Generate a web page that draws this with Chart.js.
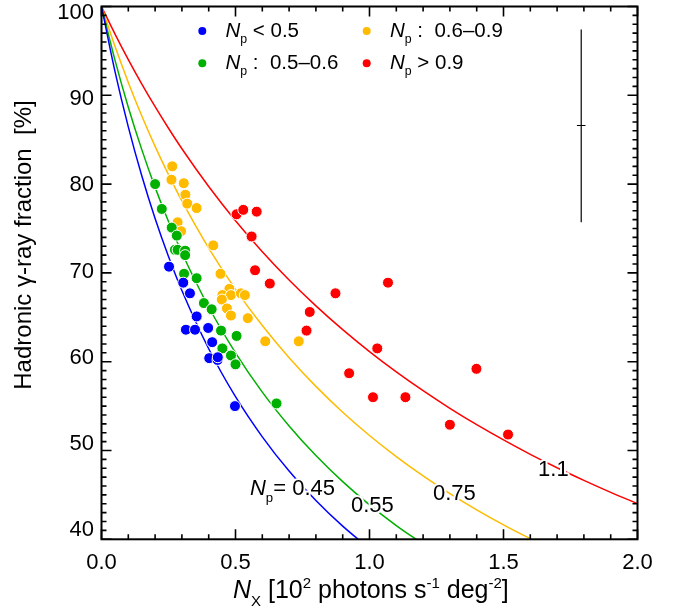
<!DOCTYPE html>
<html><head><meta charset="utf-8">
<script src="https://cdn.jsdelivr.net/npm/chart.js@4.4.1/dist/chart.umd.min.js"></script>
<style>html,body{margin:0;padding:0;background:#fff;overflow:hidden}canvas{display:block}</style>
</head><body>
<canvas id="c" width="686" height="614"></canvas>
<script>
// ---------- DATA ----------
const xTickLabels = ['0.0', '0.5', '1.0', '1.5', '2.0'];
const yTickValues = [40, 50, 60, 70, 80, 90, 100];
const yTickLabels = ['40', '50', '60', '70', '80', '90', '100'];
const groupLabels = [' < 0.5', ' :  0.5\u20130.6', ' :  0.6\u20130.9', ' > 0.9'];
const curveLabels = ['0.45', '0.55', '0.75', '1.1'];

const blueX = [0.252, 0.305, 0.330, 0.355, 0.315, 0.349, 0.398, 0.413, 0.402, 0.433, 0.434, 0.498];
const blueY = [70.7, 68.9, 67.7, 65.1, 63.6, 63.6, 63.8, 62.2, 60.4, 60.2, 60.5, 55.0];

const greenX = [0.200, 0.225, 0.262, 0.281, 0.274, 0.284, 0.312, 0.312, 0.308, 0.355, 0.382, 0.411, 0.446, 0.504, 0.451, 0.483, 0.500, 0.653];
const greenY = [80.0, 77.2, 75.1, 74.2, 72.6, 72.6, 72.5, 72.0, 69.9, 69.4, 66.6, 65.9, 63.5, 62.9, 61.5, 60.7, 59.7, 55.3];

const orangeX = [0.264, 0.261, 0.307, 0.313, 0.320, 0.355, 0.284, 0.297, 0.417, 0.444, 0.477, 0.451, 0.483, 0.520, 0.535, 0.449, 0.468, 0.483, 0.546, 0.611, 0.736];
const orangeY = [82.0, 80.5, 80.1, 78.8, 77.8, 77.3, 75.7, 74.7, 73.1, 69.9, 68.2, 67.5, 67.5, 67.7, 67.5, 67.0, 66.0, 65.2, 64.9, 62.3, 62.3];

const redX = [0.504, 0.529, 0.579, 0.560, 0.573, 0.628, 0.873, 0.777, 0.765, 1.069, 1.029, 0.924, 1.013, 1.134, 1.399, 1.300, 1.517];
const redY = [76.6, 77.1, 76.9, 74.1, 70.3, 68.8, 67.7, 65.6, 63.5, 68.9, 61.5, 58.7, 56.0, 56.0, 59.2, 52.9, 51.8];

// model curves
const curveX = [0, 0.05, 0.1, 0.15, 0.2, 0.25, 0.3, 0.4, 0.5, 0.6, 0.7, 0.8, 0.9, 1.0, 1.1, 1.2, 1.3, 1.4, 1.5, 1.6, 1.7, 1.8, 1.9, 2.0];
const curve045 = [100, 92.73, 86.45, 80.97, 76.13, 71.85, 68.02, 61.46, 56.06, 51.54, 47.68, 44.37, 41.48, 38.95];
const curve055 = [100, 93.99, 88.66, 83.91, 79.63, 75.78, 72.27, 66.16, 61.00, 56.58, 52.77, 49.43, 46.49, 43.88, 41.55, 39.46];
const curve075 = [100, 95.54, 91.45, 87.70, 84.25, 81.06, 78.10, 72.79, 68.15, 64.07, 60.45, 57.22, 54.31, 51.69, 49.31, 47.14, 45.15, 43.32, 41.63, 40.07, 38.63];
const curve110 = [100, 96.92, 94.02, 91.29, 88.72, 86.29, 83.98, 79.73, 75.88, 72.39, 69.20, 66.29, 63.61, 61.14, 58.85, 56.73, 54.75, 52.91, 51.19, 49.57, 48.06, 46.64, 45.29, 44.02];

// representative error bar
const errX = [1.79];
const errY = [75.7, 86.6, 97.4];

// ---------- STYLE ----------
const FONT = '"Liberation Sans", Arial, Helvetica, sans-serif';
const COLORS = ['#0000ff', '#00b000', '#ffbb00', '#ff0000'];

const pts = (xs, ys) => xs.map((x, i) => ({x, y: ys[i]}));
const crv = ys => ys.map((y, i) => ({x: curveX[i], y}));

function pointSet(xs, ys, c) {
  return {type: 'scatter', data: pts(xs, ys), backgroundColor: c, borderColor: '#ffffff',
    borderWidth: 1, pointRadius: 5.5, pointHoverRadius: 5.5, order: 0};
}
function curveSet(ys, c) {
  return {type: 'line', data: crv(ys), borderColor: c, borderWidth: 1.5, pointRadius: 0,
    cubicInterpolationMode: 'monotone', fill: false, order: 2};
}

function drawRich(ctx, segs, x, y, fs, halo) {
  let cx = x;
  for (const [t, st] of segs) {
    let size = fs, dy = 0, ital = false;
    if (st === 'i') ital = true;
    if (st === 'sub') { size = fs * 0.6; dy = fs * 0.3; }
    if (st === 'sup') { size = fs * 0.6; dy = -fs * 0.4; }
    ctx.font = (ital ? 'italic ' : '') + size + 'px ' + FONT;
    if (halo) { ctx.save(); ctx.strokeStyle = '#fff'; ctx.lineWidth = 4; ctx.lineJoin = 'round'; ctx.strokeText(t, cx, y + dy); ctx.restore(); }
    ctx.fillText(t, cx, y + dy);
    cx += ctx.measureText(t).width;
  }
  return cx - x;
}
function richWidth(ctx, segs, fs) {
  let w = 0;
  for (const [t, st] of segs) {
    const size = (st === 'sub' || st === 'sup') ? fs * 0.6 : fs;
    ctx.font = (st === 'i' ? 'italic ' : '') + size + 'px ' + FONT;
    w += ctx.measureText(t).width;
  }
  return w;
}

const decor = {
  id: 'decor',
  afterDatasetsDraw(chart) {
    const ctx = chart.ctx, xs = chart.scales.x, ys = chart.scales.y, a = chart.chartArea;
    ctx.save();
    ctx.fillStyle = '#000'; ctx.textBaseline = 'alphabetic'; ctx.textAlign = 'left';
    // curve labels
    const lab = [
      {segs: [['N', 'i'], ['p', 'sub'], ['= ' + curveLabels[0], '']], x: 0.554, y: 44.96},
      {segs: [[curveLabels[1], '']], x: 0.931, y: 43.09},
      {segs: [[curveLabels[2], '']], x: 1.237, y: 44.40},
      {segs: [[curveLabels[3], '']], x: 1.629, y: 47.09}
    ];
    for (const l of lab) drawRich(ctx, l.segs, xs.getPixelForValue(l.x), ys.getPixelForValue(l.y), 22, true);

    // frame and inward ticks
    ctx.strokeStyle = '#000'; ctx.lineWidth = 2;
    ctx.strokeRect(a.left, a.top, a.right - a.left, a.bottom - a.top);
    ctx.lineWidth = 1.6;
    ctx.beginPath();
    for (let i = 0; i <= 20; i++) {
      const v = i / 10, px = xs.getPixelForValue(v), L = (i % 5 === 0) ? 10 : 5;
      ctx.moveTo(px, a.bottom); ctx.lineTo(px, a.bottom - L);
      ctx.moveTo(px, a.top); ctx.lineTo(px, a.top + L);
    }
    for (let v = 40; v <= 100; v++) {
      const py = ys.getPixelForValue(v), L = (v % 10 === 0) ? 10 : 5;
      ctx.moveTo(a.left, py); ctx.lineTo(a.left + L, py);
      ctx.moveTo(a.right, py); ctx.lineTo(a.right - L, py);
    }
    ctx.stroke();

    // y tick labels (placed slightly inside the axis span, as in the original)
    ctx.font = '22px ' + FONT; ctx.textAlign = 'right'; ctx.textBaseline = 'middle'; ctx.fillStyle = '#000';
    yTickValues.forEach((v, i) => {
      const shift = -9 + (v - 40) / 60 * 15.5;
      ctx.fillText(yTickLabels[i], a.left - 7.5, ys.getPixelForValue(v) + shift);
    });
    ctx.textAlign = 'left'; ctx.textBaseline = 'alphabetic';

    // legend
    const leg = [
      {c: COLORS[0], dx: 202.3, dy: 31, tx: 225.5, ty: 36.7},
      {c: COLORS[1], dx: 202.3, dy: 63.3, tx: 225.5, ty: 69.3},
      {c: COLORS[2], dx: 366.7, dy: 31, tx: 390, ty: 36.7},
      {c: COLORS[3], dx: 366.7, dy: 63.3, tx: 390, ty: 69.3}
    ];
    leg.forEach((g, i) => {
      ctx.fillStyle = g.c; ctx.beginPath(); ctx.arc(g.dx, g.dy, 4, 0, Math.PI * 2); ctx.fill();
      ctx.fillStyle = '#000';
      drawRich(ctx, [['N', 'i'], ['p', 'sub'], [groupLabels[i], '']], g.tx, g.ty, 20.5, false);
    });

    // axis titles
    drawRich(ctx, [['N', 'i'], ['X', 'sub'], [' [10', ''], ['2', 'sup'], [' photons s', ''], ['-1', 'sup'], [' deg', ''], ['-2', 'sup'], [']', '']], 233, 598, 25, false);
    const ySegs = [['Hadronic \u03b3-ray fraction  [%]', '']];
    const w = richWidth(ctx, ySegs, 24);
    ctx.save(); ctx.translate(31, 245); ctx.rotate(-Math.PI / 2);
    drawRich(ctx, ySegs, -w / 2, 0, 24, false);
    ctx.restore();
    ctx.restore();
  }
};

new Chart(document.getElementById('c'), {
  type: 'scatter',
  data: {
    datasets: [
      pointSet(blueX, blueY, COLORS[0]),
      pointSet(greenX, greenY, COLORS[1]),
      pointSet(orangeX, orangeY, COLORS[2]),
      pointSet(redX, redY, COLORS[3]),
      curveSet(curve045, COLORS[0]),
      curveSet(curve055, COLORS[1]),
      curveSet(curve075, COLORS[2]),
      curveSet(curve110, COLORS[3]),
      {type: 'line', data: [{x: errX[0], y: errY[0]}, {x: errX[0], y: errY[2]}], borderColor: '#000', borderWidth: 1.2, pointRadius: 0, order: 1},
      {type: 'line', data: [{x: errX[0] - 0.016, y: errY[1]}, {x: errX[0] + 0.016, y: errY[1]}], borderColor: '#000', borderWidth: 1.2, pointRadius: 0, order: 1}
    ]
  },
  options: {
    responsive: false, animation: false, devicePixelRatio: 1,
    layout: {padding: {top: 3.5, right: 48.5, left: 0, bottom: 0}},
    plugins: {legend: {display: false}, tooltip: {enabled: false}},
    scales: {
      x: {type: 'linear', min: 0, max: 2,
        grid: {display: false, drawTicks: false}, border: {display: false},
        ticks: {stepSize: 0.5, padding: 10, color: '#000', maxRotation: 0, autoSkip: false,
          font: {family: FONT, size: 22},
          callback: v => xTickLabels[Math.round(v * 2)]},
        afterFit: s => { s.height = 74.7; s.paddingLeft = 0; s.paddingRight = 0; }
      },
      y: {type: 'linear', min: 40, max: 100,
        grid: {display: false, drawTicks: false}, border: {display: false},
        ticks: {stepSize: 10, display: false},
        afterFit: s => { s.width = 101.5; s.paddingTop = 0; s.paddingBottom = 0; }
      }
    }
  },
  plugins: [decor]
});
</script>
</body></html>
